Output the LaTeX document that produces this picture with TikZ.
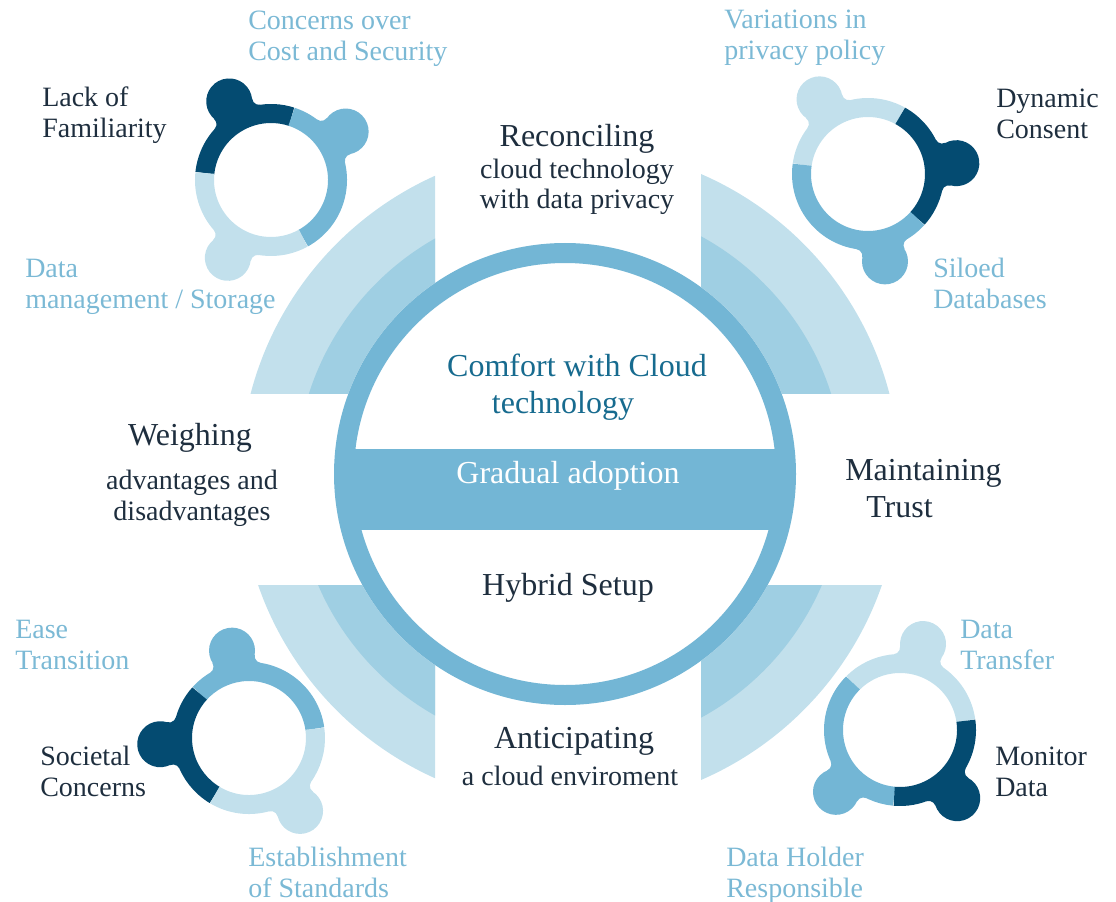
\documentclass[tikz,border=0pt]{standalone}
\usepackage{fontspec}
\setmainfont{Liberation Serif}

\definecolor{paleblue}{HTML}{C2E0EC}
\definecolor{midblue}{HTML}{9FCFE3}
\definecolor{ringblue}{HTML}{73B6D5}
\definecolor{navy}{HTML}{044B71}
\definecolor{inkdark}{HTML}{1E2E3E}
\definecolor{tealtext}{HTML}{176B8F}
\definecolor{labelblue}{HTML}{7BB9D5}

% knob on a small ring, with the filleted neck: colour, angle
\newcommand{\ringbump}[2]{%
	\fill[#1, rotate=-#2] (89,0) circle (23);
	\fill[#1, rotate=-#2] (71.5,25.7) arc[start angle=200, end angle=291, radius=7]
		-- (80.6,-21.5) arc[start angle=69, end angle=160, radius=7] -- cycle;
}

\begin{document}
\begin{tikzpicture}[x=0.75pt,y=-0.75pt,
	seg/.style={line width=14.25pt},
	head/.style={font=\fontsize{24}{27.75}\selectfont, text=inkdark, inner sep=0pt, align=center},
	sub/.style={font=\fontsize{21}{23}\selectfont, text=inkdark, inner sep=0pt, align=center},
	side/.style={font=\fontsize{21}{23.25}\selectfont, inner sep=0pt, align=left, anchor=base west},
	]
	\useasboundingbox (0,0) rectangle (1116,902);

	% quarter bands behind the hub
	\begin{scope}
		\clip (0,0) rectangle (435,393);
		\fill[paleblue] (570,477) circle (330);
		\fill[midblue] (570,477) circle (274);
	\end{scope}
	\begin{scope}
		\clip (701,0) rectangle (1116,393);
		\fill[paleblue] (570,477) circle (330);
		\fill[midblue] (570,477) circle (274);
	\end{scope}
	\begin{scope}
		\clip (0,585) rectangle (435,902);
		\fill[paleblue] (570,477) circle (330);
		\fill[midblue] (570,477) circle (274);
	\end{scope}
	\begin{scope}
		\clip (701,585) rectangle (1116,902);
		\fill[paleblue] (570,477) circle (330);
		\fill[midblue] (570,477) circle (274);
	\end{scope}

	% hub with its band
	\fill[white] (565,474) circle (231);
	\begin{scope}
		\clip (565,474) circle (222);
		\fill[ringblue] (300,449) rectangle (830,530);
	\end{scope}
	\draw[ringblue, line width=15pt] (565,474) circle (221);

	% small rings
	\begin{scope}[shift={(271,180)}, yscale=-1]
		\draw[seg, navy] (72:66.5) arc (72:174:66.5);
		\draw[seg, ringblue] (-61:66.5) arc (-61:72:66.5);
		\draw[seg, paleblue] (174:66.5) arc (174:299:66.5);
		\ringbump{navy}{118}
		\ringbump{ringblue}{33}
		\ringbump{paleblue}{241}
	\end{scope}
	\begin{scope}[shift={(868,174)}, yscale=-1]
		\draw[seg, paleblue] (61:66.5) arc (61:172:66.5);
		\draw[seg, navy] (-42:66.5) arc (-42:61:66.5);
		\draw[seg, ringblue] (172:66.5) arc (172:318:66.5);
		\ringbump{paleblue}{123}
		\ringbump{navy}{7}
		\ringbump{ringblue}{281}
	\end{scope}
	\begin{scope}[shift={(249,738)}, yscale=-1]
		\draw[seg, ringblue] (8:66.5) arc (8:138:66.5);
		\draw[seg, navy] (138:66.5) arc (138:239:66.5);
		\draw[seg, paleblue] (239:66.5) arc (239:368:66.5);
		\ringbump{ringblue}{101}
		\ringbump{navy}{184}
		\ringbump{paleblue}{305}
	\end{scope}
	\begin{scope}[shift={(900,730)}, yscale=-1]
		\draw[seg, paleblue] (8:66.5) arc (8:135:66.5);
		\draw[seg, ringblue] (135:66.5) arc (135:265:66.5);
		\draw[seg, navy] (265:66.5) arc (265:368:66.5);
		\ringbump{paleblue}{75}
		\ringbump{ringblue}{224}
		\ringbump{navy}{310}
	\end{scope}

	% texts around the hub (base = last line)
	\node[head, anchor=base] (recon) at (577,147) {Reconciling};
	\node[sub, anchor=base] (reconsub) at (577,209) {cloud technology\\with data privacy};
	\node[head, anchor=base, text=tealtext] (comfort) at (577,413) {Comfort with Cloud\\technology\hspace*{21pt}};
	\node[head, anchor=base, text=white] (gradual) at (568,483) {Gradual adoption};
	\node[head, anchor=base] (hybrid) at (568,595) {Hybrid Setup};
	\node[head, anchor=base] (weigh) at (190,445) {Weighing};
	\node[sub, anchor=base] (weighsub) at (192,520) {advantages and\\disadvantages};
	\node[head, anchor=base west, align=left] (trust) at (845,517) {Maintaining\\\hspace*{15.75pt}Trust};
	\node[head, anchor=base] (anticip) at (574,748) {Anticipating};
	\node[sub, anchor=base] (anticipsub) at (570,785) {a cloud enviroment};

	% labels of the small rings
	\node[side, text=labelblue] (costsec) at (248,61) {Concerns over\\Cost and Security};
	\node[side, text=inkdark] (familiar) at (42,138) {Lack of\\Familiarity};
	\node[side, text=labelblue] (storage) at (25,308) {Data\\management / Storage};
	\node[side, text=labelblue] (policy) at (724,60) {Variations in\\privacy policy};
	\node[side, text=inkdark] (consent) at (996,139) {Dynamic\\Consent};
	\node[side, text=labelblue] (siloed) at (933,308) {Siloed\\Databases};
	\node[side, text=labelblue] (ease) at (15,669) {Ease\\Transition};
	\node[side, text=inkdark] (societal) at (40,796) {Societal\\Concerns};
	\node[side, text=labelblue] (standards) at (248,897) {Establishment\\of Standards};
	\node[side, text=labelblue] (transfer) at (960,669) {Data\\Transfer};
	\node[side, text=inkdark] (monitor) at (995,796) {Monitor\\Data};
	\node[side, text=labelblue] (holder) at (726,897) {Data Holder\\Responsible};
\end{tikzpicture}
\end{document}
